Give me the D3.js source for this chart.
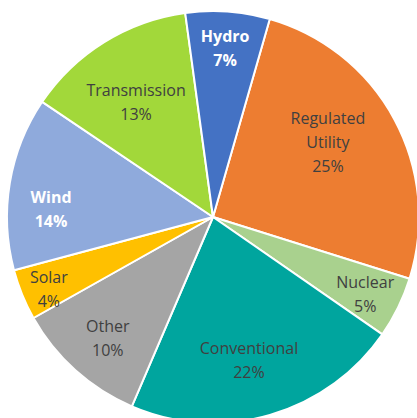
<!DOCTYPE html>
<html>
<head>
<meta charset="utf-8">
<script src="https://cdn.jsdelivr.net/npm/d3@7"></script>
<style>
  html, body { margin: 0; padding: 0; background: #fff; }
  svg { display: block; }
</style>
</head>
<body>
<div id="chart"></div>
<script>
// dati (percentuali)
var categories = ["Regulated Utility", "Nuclear", "Conventional", "Other", "Solar", "Wind", "Transmission", "Hydro"];
var values = [25.4, 4.8, 21.8, 10.4, 4.0, 13.6, 13.4, 6.6];
var labelLines = [["Regulated", "Utility"], ["Nuclear"], ["Conventional"], ["Other"], ["Solar"], ["Wind"], ["Transmission"], ["Hydro"]];

var colors = ["#ED7D31", "#A9D18E", "#00A59E", "#A5A5A5", "#FFC000", "#8FAADC", "#A2D83A", "#4472C4"];
var boldWhite = ["Wind", "Hydro"];

// posizione delle etichette: frazione del raggio e spostamento angolare (gradi)
var labelRadius = [0.665, 0.83, 0.72, 0.78, 0.87, 0.787, 0.67, 0.82];
var labelShift = [-4.7, 1, 2, -1, -1.5, -7, -2, 0];

var W = 417, H = 418;
var cx = 213, cy = 217, R = 206;
var startDeg = 16;

var svg = d3.select("#chart").append("svg")
  .attr("width", W)
  .attr("height", H);

var g = svg.append("g")
  .attr("transform", "translate(" + cx + "," + cy + ")");

var total = d3.sum(values);
var startA = startDeg * Math.PI / 180;

var pie = d3.pie()
  .sort(null)
  .value(function(d){ return d; })
  .startAngle(startA)
  .endAngle(startA + Math.PI * 2);

var arc = d3.arc().innerRadius(0).outerRadius(R);
var arcs = pie(values);

// fette
g.selectAll("path.slice")
  .data(arcs)
  .enter()
  .append("path")
  .attr("class", "slice")
  .attr("d", arc)
  .attr("fill", function(d, i){ return colors[i]; })
  .attr("stroke", "#fff")
  .attr("stroke-width", 2)
  .attr("stroke-linejoin", "round");

var pct = d3.format(".0f");

// etichette
var lab = g.selectAll("text.lab")
  .data(arcs)
  .enter()
  .append("text")
  .attr("class", "lab")
  .attr("text-anchor", "middle")
  .style("font-family", "'Open Sans', sans-serif")
  .style("font-size", "16px")
  .style("font-weight", function(d, i){ return boldWhite.indexOf(categories[i]) >= 0 ? "bold" : "normal"; })
  .attr("fill", function(d, i){ return boldWhite.indexOf(categories[i]) >= 0 ? "#fff" : "#404040"; })
  .attr("transform", function(d, i){
    var a = (d.startAngle + d.endAngle) / 2 + labelShift[i] * Math.PI / 180;
    var r = R * labelRadius[i];
    return "translate(" + (r * Math.sin(a)) + "," + (-r * Math.cos(a)) + ")";
  });

lab.each(function(d, i){
  var lines = labelLines[i].concat([pct(d.value / total * 100) + "%"]);
  var n = lines.length;
  var t = d3.select(this);
  lines.forEach(function(s, k){
    t.append("tspan")
      .attr("x", 0)
      .attr("y", (k - (n - 1) / 2) * 24)
      .attr("dy", "0.35em")
      .text(s);
  });
});
</script>
</body>
</html>
